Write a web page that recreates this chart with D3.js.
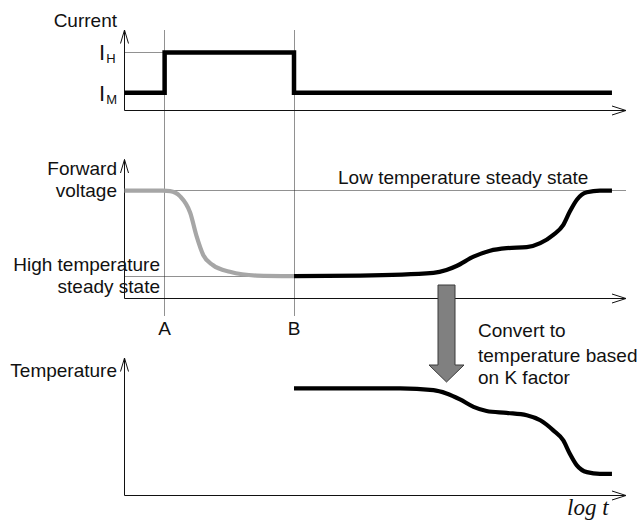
<!DOCTYPE html>
<html>
<head>
<meta charset="utf-8">
<script src="https://cdn.jsdelivr.net/npm/d3@7/dist/d3.min.js"></script>
<style>
  html, body { margin: 0; padding: 0; background: #fff; }
  svg { display: block; }
</style>
</head>
<body>
<svg id="chart" width="638" height="521"></svg>
<script>
// ---- data (x in relative log-time units 0..100, y in relative units 0..1) ----
const markers = [{ name: "A", t: 8.0 }, { name: "B", t: 33.8 }];

const currentLevels = { IM: 0.22, IH: 0.72 };
const currentStep = [
  { t: 0, v: 0.22 }, { t: 8.0, v: 0.22 }, { t: 8.0, v: 0.72 },
  { t: 33.8, v: 0.72 }, { t: 33.8, v: 0.22 }, { t: 97.2, v: 0.22 }
];

const vfLevels = { lowTemp: 0.776, highTemp: 0.161 };
const vfHeating = [
  { t: 0, v: 0.776 }, { t: 7.7, v: 0.776 }, { t: 9.1, v: 0.773 },
  { t: 11.1, v: 0.735 }, { t: 13.1, v: 0.617 }, { t: 14.4, v: 0.445 },
  { t: 15.7, v: 0.313 }, { t: 17.6, v: 0.241 }, { t: 21.0, v: 0.192 },
  { t: 26.4, v: 0.165 }, { t: 33.8, v: 0.161 }
];
const vfCooling = [
  { t: 33.8, v: 0.161 }, { t: 47.0, v: 0.165 }, { t: 61.6, v: 0.185 },
  { t: 64.2, v: 0.205 }, { t: 66.2, v: 0.234 }, { t: 69.6, v: 0.301 },
  { t: 72.9, v: 0.344 }, { t: 76.2, v: 0.362 }, { t: 80.2, v: 0.369 },
  { t: 82.9, v: 0.398 }, { t: 85.5, v: 0.458 }, { t: 87.5, v: 0.530 },
  { t: 88.8, v: 0.626 }, { t: 90.2, v: 0.711 }, { t: 92.2, v: 0.764 },
  { t: 94.8, v: 0.776 }, { t: 97.2, v: 0.776 }
];
const temperature = [
  { t: 33.8, v: 0.779 }, { t: 55.0, v: 0.779 }, { t: 61.6, v: 0.766 },
  { t: 64.2, v: 0.742 }, { t: 66.9, v: 0.699 }, { t: 69.6, v: 0.645 },
  { t: 72.2, v: 0.615 }, { t: 76.2, v: 0.601 }, { t: 80.2, v: 0.584 },
  { t: 82.9, v: 0.547 }, { t: 85.5, v: 0.474 }, { t: 87.5, v: 0.401 },
  { t: 88.8, v: 0.304 }, { t: 90.2, v: 0.219 }, { t: 92.2, v: 0.170 },
  { t: 94.8, v: 0.158 }, { t: 97.2, v: 0.158 }
];

const labels = {
  current: "Current", fv1: "Forward", fv2: "voltage",
  high1: "High temperature", high2: "steady state",
  low: "Low temperature steady state", temp: "Temperature",
  conv: ["Convert to", "temperature based", "on K factor"], logt: "log t"
};

// ---- layout ----
const SANS = "'Liberation Sans', Arial, sans-serif";
const SERIF = "'Liberation Serif', 'Times New Roman', serif";
const svg = d3.select("#chart");
const x = d3.scaleLinear().domain([0, 100]).range([124.5, 626]);
const yI = d3.scaleLinear().domain([0, 1]).range([110.5, 30]);
const yV = d3.scaleLinear().domain([0, 1]).range([298.5, 159.5]);
const yT = d3.scaleLinear().domain([0, 1]).range([495.5, 358]);
const snap = v => Math.round(v - 0.5) + 0.5;

function dline(x1, y1, x2, y2) {
  return svg.append("line").attr("x1", snap(x1)).attr("y1", snap(y1)).attr("x2", snap(x2)).attr("y2", snap(y2))
    .attr("stroke", "#222").attr("stroke-width", 1).attr("stroke-dasharray", "1,1");
}

// vertical marker lines A, B
markers.forEach(m => {
  dline(x(m.t), 30, x(m.t), 315);
  svg.append("text").attr("x", x(m.t)).attr("y", 335).attr("text-anchor", "middle")
    .style("font-family", SANS).attr("font-size", 19).attr("fill", "#111").text(m.name);
});

// horizontal dotted reference lines
dline(x(0), yI(currentLevels.IH), x(markers[0].t), yI(currentLevels.IH));
dline(x(0), yV(vfLevels.lowTemp), x.range()[1], yV(vfLevels.lowTemp));
dline(x(0), yV(vfLevels.highTemp), x(markers[1].t), yV(vfLevels.highTemp));

// axes
function axes(y) {
  const x0 = x.range()[0], x1 = x.range()[1];
  const y0 = y.range()[0], y1 = y.range()[1];
  const g = svg.append("g").attr("stroke", "#111").attr("stroke-width", 1).attr("fill", "none");
  g.append("path").attr("d", `M${x0},${y0}V${y1}M${x0 - 4},${y1 + 13.5}L${x0},${y1}L${x0 + 4},${y1 + 13.5}`);
  g.append("path").attr("d", `M${x0},${y0}H${x1}M${x1 - 14},${y0 - 4.5}L${x1},${y0}L${x1 - 14},${y0 + 4.5}`);
}
axes(yI); axes(yV); axes(yT);

// marks
const lineI = d3.line().x(d => x(d.t)).y(d => yI(d.v));
svg.append("path").datum(currentStep).attr("d", lineI)
  .attr("fill", "none").attr("stroke", "#000").attr("stroke-width", 4.5).attr("stroke-linejoin", "miter");

const lineV = d3.line().x(d => x(d.t)).y(d => yV(d.v)).curve(d3.curveMonotoneX);
svg.append("path").datum(vfHeating).attr("d", lineV)
  .attr("fill", "none").attr("stroke", "#a6a6a6").attr("stroke-width", 4.2);
svg.append("path").datum(vfCooling).attr("d", lineV)
  .attr("fill", "none").attr("stroke", "#000").attr("stroke-width", 4.2);

const lineT = d3.line().x(d => x(d.t)).y(d => yT(d.v)).curve(d3.curveMonotoneX);
svg.append("path").datum(temperature).attr("d", lineT)
  .attr("fill", "none").attr("stroke", "#000").attr("stroke-width", 4.2);

// big conversion arrow
const ax = 446.5;
svg.append("path")
  .attr("d", `M${ax - 8.5},285H${ax + 8.5}V365H${ax + 17.5}L${ax},382L${ax - 17.5},365H${ax - 8.5}Z`)
  .attr("fill", "#808080").attr("stroke", "#3a3a3a").attr("stroke-width", 1);

// text labels
const fs = 19;
function txt(s, px, py, anchor) {
  return svg.append("text").attr("x", px).attr("y", py).attr("text-anchor", anchor || "start")
    .style("font-family", SANS).attr("font-size", fs).attr("fill", "#111").text(s);
}
txt(labels.current, 117, 27, "end");
txt(labels.fv1, 117, 175, "end");
txt(labels.fv2, 117, 197, "end");
txt(labels.high1, 160, 271, "end");
txt(labels.high2, 160, 293, "end");
txt(labels.temp, 117, 377, "end");
txt(labels.low, 338, 184, "start");
labels.conv.forEach((s, i) => txt(s, 478, [337, 362, 384][i], "start"));

svg.append("text").attr("x", 567).attr("y", 515).style("font-family", SERIF)
  .style("font-style", "italic").attr("font-size", 23).attr("fill", "#111").text(labels.logt);

// I_H and I_M
function sub(main, s, py, psub) {
  const t = svg.append("text").attr("x", 99).attr("y", py).style("font-family", SANS)
    .attr("font-size", 22).attr("fill", "#111");
  t.append("tspan").text(main);
  t.append("tspan").attr("font-size", 13).attr("dy", psub - py).attr("dx", 1).text(s);
}
sub("I", "H", yI(currentLevels.IH) + 7.5, yI(currentLevels.IH) + 10.5);
sub("I", "M", yI(currentLevels.IM) + 8.5, yI(currentLevels.IM) + 11);
</script>
</body>
</html>
